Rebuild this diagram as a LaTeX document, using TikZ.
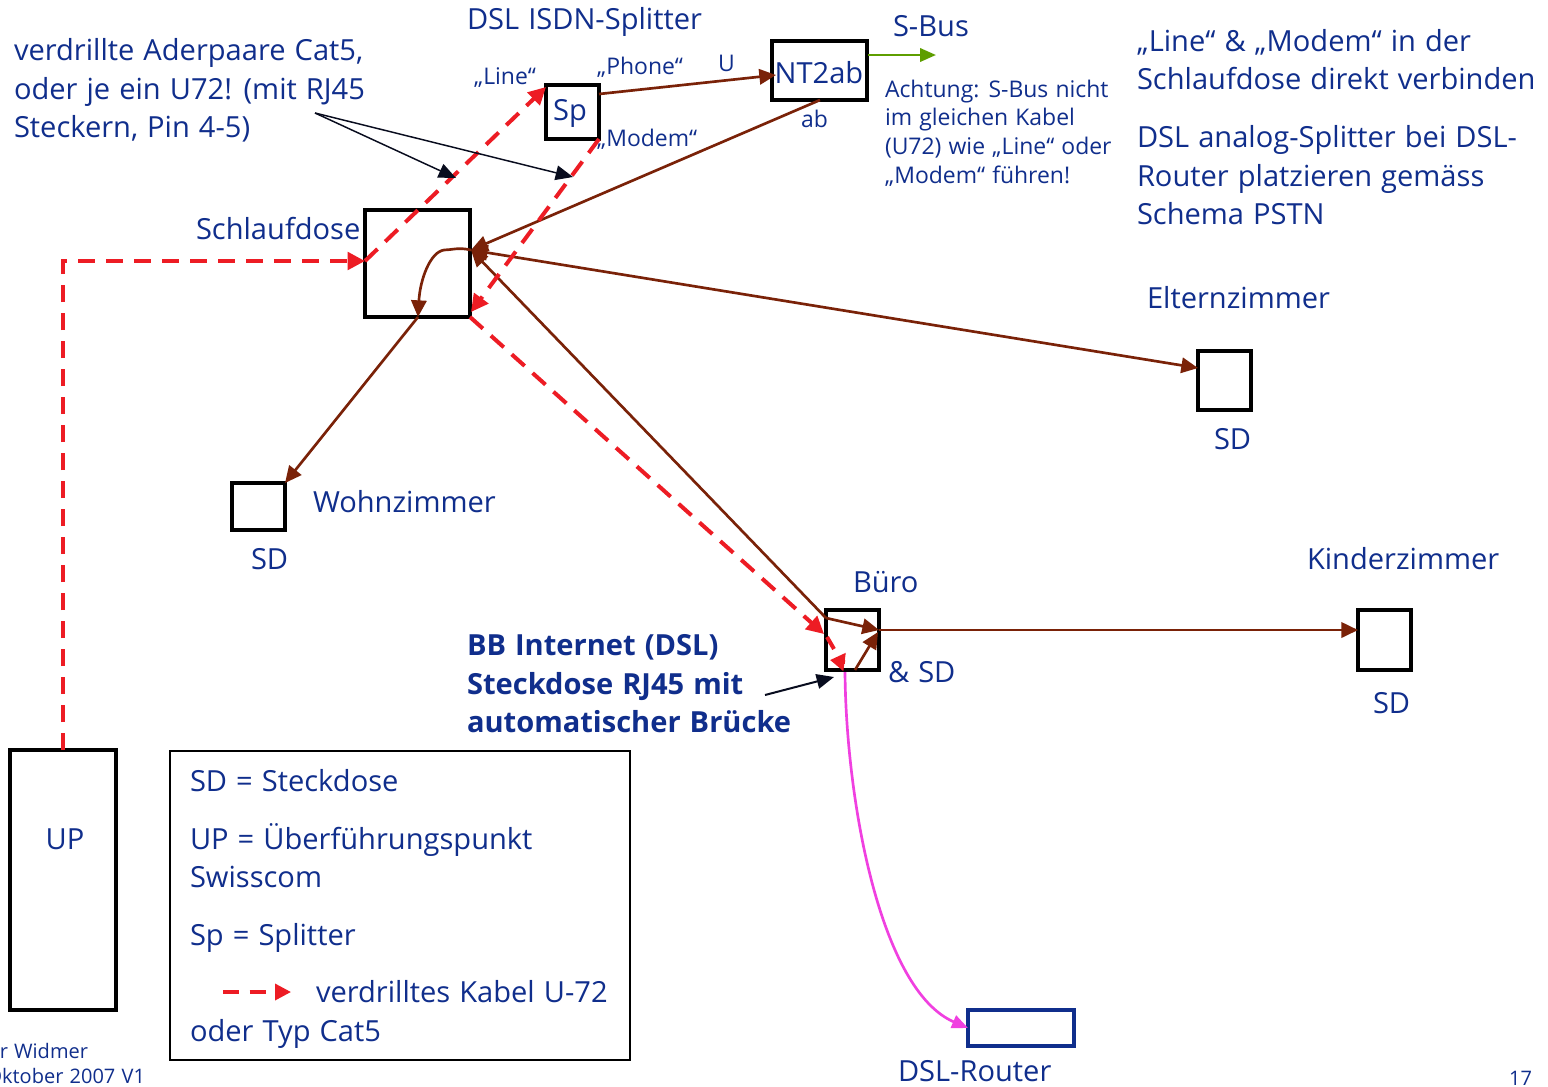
\documentclass[tikz,border=0pt]{standalone}
\usepackage{fontspec}
\setmainfont[WordSpace=1.2]{Open Sans}
\usetikzlibrary{arrows.meta}
\definecolor{txtblue}{RGB}{16,46,140}
\definecolor{brownline}{RGB}{122,34,8}
\definecolor{redline}{RGB}{237,28,36}
\definecolor{greenline}{RGB}{94,158,0}
\definecolor{magline}{RGB}{240,64,224}
\definecolor{inkblack}{RGB}{8,12,30}
\tikzset{
  x=0.75pt,y=-0.75pt,
  every node/.style={text=txtblue,inner sep=0pt,outer sep=0pt},
  boxn/.style 2 args={draw=black,line width=2.4pt,fill=white,minimum width=#1*.75pt,minimum height=#2*.75pt,font=\fsbig},
  lab/.style={anchor=base west,align=left,font=\fsbig,yshift=0.6pt},
  labsm/.style={anchor=base west,align=left,font=\fssm,yshift=0.4pt},
  labtiny/.style={anchor=base west,align=left,font=\fstiny},
  brownarrow/.style={draw=brownline,line width=2pt,-{Triangle[length=12.5pt,width=11.5pt]}},
  redline/.style={draw=redline,line width=3pt,dash pattern=on 13pt off 8pt},
  redarrow/.style={redline,-{Triangle[length=13pt,width=13pt]}},
  blackarrow/.style={draw=inkblack,line width=1.1pt,-{Triangle[length=13pt,width=11pt]}},
}
\newcommand{\fsbig}{\fontsize{21.8}{28.6}\selectfont}
\newcommand{\fssm}{\fontsize{17.2}{21.6}\selectfont}
\newcommand{\fstiny}{\fontsize{15}{18.8}\selectfont}
\begin{document}
\begin{tikzpicture}
\useasboundingbox (0,0) rectangle (1548,1086);
\fill[white] (0,0) rectangle (1548,1086);
% boxes
\node[boxn={105}{107}] (schlauf) at (417.5,263.5) {};
\node[boxn={53}{54}] (sp) at (572.5,112) {};
\node[boxn={95}{59}] (nt) at (819.5,70.5) {};
\node[boxn={106}{260}] (up) at (63,880) {};
\node[boxn={53}{59}] (eltern) at (1224.5,380.5) {};
\node[boxn={53}{47}] (wohn) at (258.5,506.5) {};
\node[boxn={53}{60}] (buero) at (852.5,640) {};
\node[boxn={53}{60}] (kinder) at (1384.5,640) {};
\node[boxn={106}{36},draw=txtblue] (router) at (1021,1028) {};
\node[boxn={460}{309},line width=1.5pt,fill=none] (legend) at (400,905.5) {};
% junctions
\coordinate (upTop) at (63,750);
\coordinate (upBend) at (63,261);
\coordinate (sIn) at (365,261);
\coordinate (spLine) at (546,87);
\coordinate (spModem) at (599,139);
\coordinate (sOut) at (470,317);
\coordinate (sTip) at (471,312);
\coordinate (bIn) at (824,634);
\coordinate (sHub) at (471,250);
\coordinate (sBot) at (418,317);
\coordinate (ntU) at (776,75);
\coordinate (spPhone) at (599,94);
\coordinate (ntAb) at (820,100);
\coordinate (bTop) at (826,618);
\coordinate (bE) at (879,630);
\coordinate (bBot) at (855,670);
\coordinate (bE2) at (878,632);
\coordinate (bMag) at (845,672);
\coordinate (bRedA) at (845,662);
\coordinate (bRedB) at (830,660);
\coordinate (bRedC) at (827,637);
\coordinate (bRedD) at (834,649);
\coordinate (rIn) at (968,1028);
\coordinate (eIn) at (1198,368);
\coordinate (wIn) at (285,483);
\coordinate (kIn) at (1358,630);
\coordinate (sbusA) at (868,55);
\coordinate (sbusB) at (936,55);
\coordinate (noteSrc) at (315,113);
\coordinate (noteA) at (456,178);
\coordinate (noteB) at (573,177);
\coordinate (bbSrc) at (765,695);
\coordinate (bbTip) at (834,677);
\coordinate (legA) at (223,992);
\coordinate (legB) at (291,992);
% brown lines
\draw[brownarrow] (spPhone) -- (ntU);
\draw[brownarrow] (ntAb) -- (sHub);
\draw[brownarrow,{Triangle[length=12.5pt,width=11.5pt]}-{Triangle[length=12.5pt,width=11.5pt]}] (sHub) -- (eIn);
\draw[brownarrow] (bTop) -- (sHub);
\draw[brownarrow] (sHub) .. controls (458,247) and (452,250) .. (444,250) .. controls (430,252) and (420,280) .. (sBot);
\draw[brownarrow] (sBot) -- (wIn);
\draw[brownarrow] (bTop) -- (bE);
\draw[brownarrow] (bBot) -- (bE2);
\draw[brownarrow] (bE) -- (kIn);
% red lines
\draw[redarrow] (upTop) -- (upBend) -- (sIn);
\draw[redarrow] (sIn) -- (spLine);
\draw[redarrow] (spModem) -- (sTip);
\draw[redarrow] (sOut) -- (bIn);
\draw[redline,solid] (bRedC) -- (bRedD);
\draw[redline,solid,-{Triangle[length=11pt,width=13pt]}] (bRedA) -- (bRedB);
\draw[redarrow,line width=2.6pt,dash pattern=on 12pt off 8pt,-{Triangle[length=12pt,width=12pt]}] (legA) -- (legB);
% other lines
\draw[draw=magline,line width=2pt,-{Triangle[length=12pt,width=10pt]}] (bMag) .. controls (846,800) and (880,990) .. (rIn);
\draw[draw=greenline,line width=2pt,-{Triangle[length=12pt,width=10pt]}] (sbusA) -- (sbusB);
\draw[blackarrow] (noteSrc) -- (noteA);
\draw[blackarrow] (noteSrc) -- (noteB);
\draw[blackarrow,line width=1.5pt] (bbSrc) -- (bbTip);
% labels
\node[font=\fsbig] (tSp) at (570,113) {Sp};
\node[font=\fsbig] (tNt) at (819,73) {NT2ab};
\node[font=\fsbig] (tUp) at (65,839) {UP};
\node[lab] (tNote) at (14,138) {verdrillte Aderpaare Cat5,\\oder je ein U72! (mit RJ45\\Steckern, Pin 4-5)};
\node[lab] (tSplit) at (467,30) {DSL ISDN-Splitter};
\node[lab] (tSbus) at (893,37) {S-Bus};
\node[labsm] (tLine) at (474,85) {„Line“};
\node[labsm] (tPhone) at (597,75) {„Phone“};
\node[labsm] (tU) at (718,72) {U};
\node[labsm] (tModem) at (597,147) {„Modem“};
\node[labsm] (tAb) at (801,128) {ab};
\node[labsm] (tAcht) at (885,184) {Achtung: S-Bus nicht\\im gleichen Kabel\\(U72) wie „Line“ oder\\„Modem“ führen!};
\node[lab] (tHint) at (1137,90) {„Line“ \& „Modem“ in der\\Schlaufdose direkt verbinden};
\node[lab] (tPlace) at (1137,225) {DSL analog-Splitter bei DSL-\\Router platzieren gemäss\\Schema PSTN};
\node[lab] (tEltern) at (1147,309) {Elternzimmer};
\node[lab] (tSd1) at (1214,450) {SD};
\node[lab] (tWohn) at (313,513) {Wohnzimmer};
\node[lab] (tSd2) at (251,570) {SD};
\node[lab] (tKinder) at (1307,570) {Kinderzimmer};
\node[lab] (tSd3) at (1373,714) {SD};
\node[lab] (tBuero) at (853,593) {Büro};
\node[lab] (tSd4) at (888,683) {\& SD};
\node[lab] (tSchlauf) at (196,240) {Schlaufdose};
\node[lab] (tRouter) at (898,1082) {DSL-Router};
\node[lab,font=\fsbig\bfseries] (tBB) at (467,733) {BB Internet (DSL)\\Steckdose RJ45 mit\\automatischer Brücke};
\node[lab] (tL1) at (190,792) {SD = Steckdose};
\node[lab] (tL2) at (190,888) {UP = Überführungspunkt\\Swisscom};
\node[lab] (tL3) at (190,946) {Sp = Splitter};
\node[lab] (tL4) at (316,1003) {verdrilltes Kabel U-72};
\node[lab] (tL5) at (190,1042) {oder Typ Cat5};
\node[labtiny,anchor=base east] (tAuth) at (88,1058) {er Widmer};
\node[labtiny,anchor=base east] (tDate) at (145,1083) {Oktober 2007 V1};
\node[labtiny,anchor=base east] (tPage) at (1532,1085) {17};
\end{tikzpicture}
\end{document}
